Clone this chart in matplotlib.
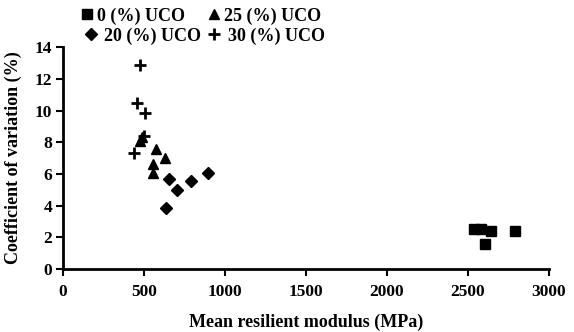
import matplotlib
matplotlib.use("Agg")
import matplotlib.pyplot as plt

plt.rcParams['font.family'] = ['Liberation Serif', 'DejaVu Serif']

# mean resilient modulus (MPa) and coefficient of variation (%)
uco0_x = [2537, 2584, 2643, 2794, 2606]
uco0_y = [2.5, 2.55, 2.4, 2.4, 1.6]

uco25_x = [472, 485, 571, 627, 555, 555]
uco25_y = [8.1, 8.3, 7.6, 7.0, 6.6, 6.05]

uco20_x = [653, 703, 637, 791, 894]
uco20_y = [5.67, 4.97, 3.83, 5.56, 6.08]

uco30_x = [473, 458, 503, 499, 440]
uco30_y = [12.87, 10.47, 9.83, 8.4, 7.3]

fig = plt.figure(figsize=(5.74, 3.32), dpi=100)
ax = fig.add_axes([0.110, 0.190, 0.846, 0.668])

h0, = ax.plot(uco0_x, uco0_y, 's', color='black', markersize=6.5, linestyle='none', label='0 (%) UCO')
h25, = ax.plot(uco25_x, uco25_y, '^', color='black', markersize=7.5, linestyle='none', label='25 (%) UCO')
h20, = ax.plot(uco20_x, uco20_y, 'D', color='black', markersize=6.5, linestyle='none', label='20 (%) UCO')
h30, = ax.plot(uco30_x, uco30_y, '+', color='black', markersize=8, markeredgewidth=2, linestyle='none', label='30 (%) UCO')

ax.set_xlim(0, 3000)
ax.set_ylim(0, 14)
ax.set_xticks(range(0, 3001, 500))
ax.set_yticks(range(0, 15, 2))
for s in ['top', 'right']:
    ax.spines[s].set_visible(False)
for s in ['left', 'bottom']:
    ax.spines[s].set_linewidth(2)
ax.tick_params(width=1.5, length=5, labelsize=12.5)
ax.tick_params(axis='x', pad=6)
ax.tick_params(axis='y', pad=3)
for lab in ax.get_xticklabels() + ax.get_yticklabels():
    lab.set_fontweight('bold')

ax.set_xlabel('Mean resilient modulus (MPa)', fontsize=13, fontweight='semibold')
ax.set_ylabel('Coefficient of variation (%)', fontsize=13, fontweight='semibold')
ax.xaxis.set_label_coords(0.5, -0.20)
ax.yaxis.set_label_coords(-0.085, 0.5)

# legend rows are laid out separately, like the original
leg_kw = dict(ncol=2, loc='center left', frameon=False, handlelength=0.6,
              borderpad=0, prop={'size': 13, 'weight': 'bold'})
leg1 = fig.legend(handles=[h0, h25], bbox_to_anchor=(0.127, 0.952),
                  handletextpad=0.25, columnspacing=1.3, **leg_kw)
leg2 = fig.legend(handles=[h20, h30], bbox_to_anchor=(0.133, 0.892),
                  handletextpad=0.45, columnspacing=0.4, **leg_kw)

fig.savefig('out.png', dpi=100)
